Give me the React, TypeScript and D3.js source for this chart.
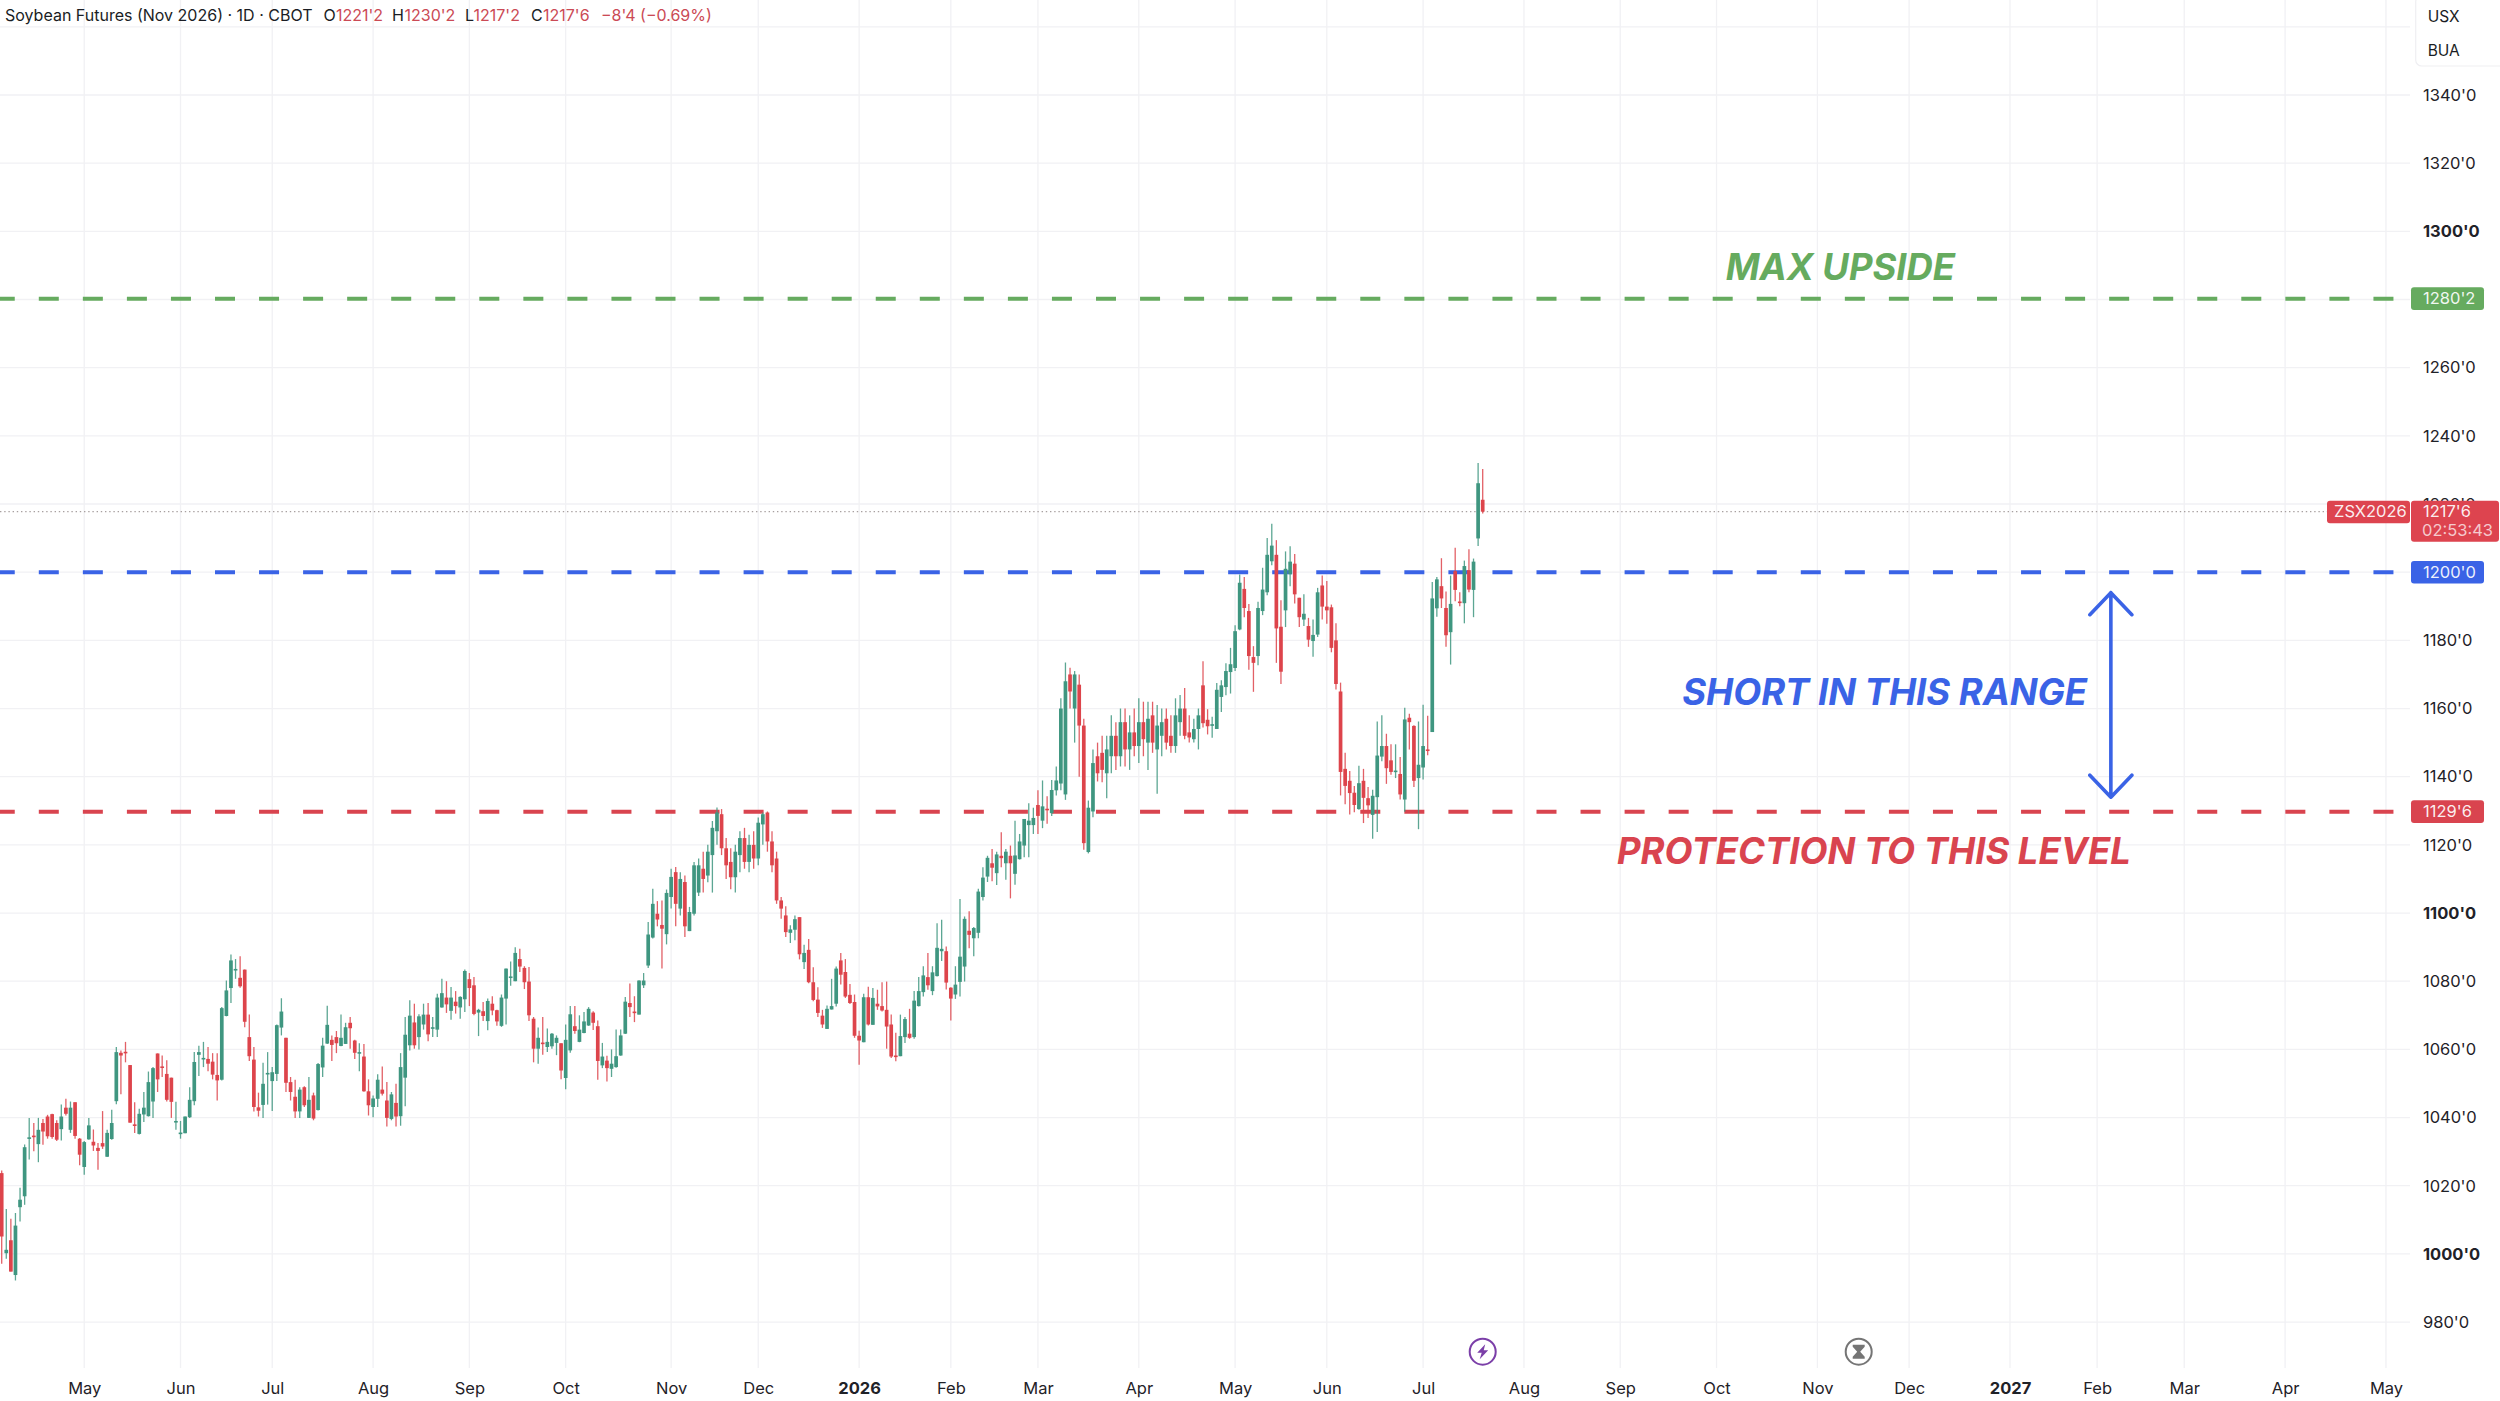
import { useEffect, useRef } from 'react';
import * as d3 from 'd3';

// [open, high, low, close]
const barsApr2025: number[][] = [
  [1023.7,1024.5,997.1,1005.1],[1000.2,1013.2,998.6,1001.2],[1004,1010.3,994.8,994.8],[993.8,1012,992.2,1008.3],[1013.7,1019.4,1009.5,1015.9],
  [1016.9,1032.1,1014.4,1031.3],[1033.9,1039.9,1027.7,1034.2],[1034.7,1038.4,1030.1,1034.4],[1032.2,1039.9,1026.9,1036.4],[1038.4,1039.6,1032,1035.9],
  [1040.3,1040.8,1033.8,1034.5],[1041,1041.1,1033.8,1034.3],[1038.4,1039.2,1033.1,1033.5],[1036.6,1043.8,1033.3,1040.3],[1042.9,1045.5,1040.6,1041.1],
  [1036.4,1044.7,1035.5,1042.9],[1044.5,1044.5,1033.8,1034.6],[1033.8,1034,1026,1029.1],
];
const barsMay2025: number[][] = [
  [1025.5,1033.1,1023.2,1032.8],[1033.6,1039.9,1033.5,1037.7],[1032.9,1036.5,1030.2,1031.8],[1031.1,1032.5,1024.7,1030.2],[1032.5,1041.9,1030.8,1031.5],
  [1028.5,1036.4,1028.4,1035.5],[1033.7,1042.3,1033.5,1038.4],[1044.8,1060.7,1043.9,1059.2],[1059,1059.7,1046.8,1058.2],[1059.3,1062.2,1056.2,1059.1],
  [1055.4,1055.4,1038.5,1038.5],[1038,1044.5,1035.5,1037.7],[1035.2,1042.6,1035,1041.1],[1040.9,1047.5,1038.7,1042.9],[1040.4,1053.5,1040.3,1050.4],
  [1044.7,1054.8,1039.9,1054.5],[1058.8,1058.8,1047.5,1051.2],[1055,1058.2,1051.9,1054.8],[1052.8,1056.8,1044.7,1045.2],[1051.7,1051.7,1039.9,1044.6],
  [1038.7,1044.6,1036.4,1039],
];
const barsJun2025: number[][] = [
  [1035.3,1039,1033.8,1035.6],[1035.4,1040.3,1035.4,1040.3],[1040.1,1048.9,1039.9,1045.2],[1044.8,1059.2,1043.6,1056.3],[1058.4,1061.1,1052.2,1059.2],
  [1057.3,1062.2,1054.8,1057.5],[1057.2,1060.7,1053.6,1055.8],[1056.4,1058.9,1051.2,1052.6],[1052.5,1058.9,1045,1050.9],[1051.1,1072.4,1050.9,1072.1],
  [1069.8,1080.2,1069.7,1077.3],[1078,1087.8,1073.6,1086.1],[1083.4,1086.5,1080.7,1083.6],[1081,1087.3,1078.1,1078.5],[1083.4,1083.4,1066.5,1068.1],
  [1063.6,1070.2,1056.6,1058],[1057,1060.7,1041.8,1043.1],[1043,1047.3,1040.3,1042],[1043.7,1056.1,1039.9,1049.9],[1052.9,1059.2,1043.8,1053.1],
];
const barsJul2025: number[][] = [
  [1050.7,1054.8,1041.9,1053.3],[1052.8,1067.3,1050.7,1067.1],[1066.4,1075,1064.1,1071.1],[1063.4,1063.4,1047.5,1050.2],[1050.4,1051.9,1045,1047.5],
  [1046.1,1051.1,1039.9,1041.8],[1041.8,1048.9,1039.9,1048.2],[1048.9,1049.2,1043.1,1043.6],[1039.9,1051.9,1039.9,1045.2],[1046.5,1047.3,1039.2,1039.7],
  [1042.2,1056,1042.1,1055.7],[1054.7,1063.4,1051.9,1061.1],[1061.7,1072.8,1061.6,1067.2],[1062.8,1064.1,1056.6,1061.3],[1063.6,1065.4,1058.9,1061.8],
  [1061,1070.2,1060.9,1063.4],[1061.6,1067.8,1061.6,1066.5],[1067.8,1069.5,1060.2,1066.2],[1062.6,1062.8,1057.2,1059],[1059,1061.8,1053.6,1059.2],
  [1057.9,1061.6,1047.6,1047.7],[1047.7,1051.2,1040.6,1043.6],
];
const barsAug2025: number[][] = [
  [1043.1,1046.5,1040.1,1045.6],[1045.5,1052.7,1043.1,1051.1],[1048.2,1055,1046.5,1047],[1045,1050.4,1037.4,1039.9],[1039.6,1047.5,1039.2,1046.8],
  [1044.3,1049.9,1037.4,1040.3],[1040.4,1058.9,1037.6,1054.8],[1051.7,1069.5,1043.3,1064.3],[1061.2,1074.4,1059.7,1069.9],[1067.9,1073.4,1060.2,1061.2],
  [1063.6,1070.3,1060,1069.7],[1067.3,1073.4,1065.8,1070.2],[1070.2,1073.6,1062.4,1064.4],[1066.3,1069.5,1063.6,1066.5],[1065.8,1076.3,1063.6,1075.2],
  [1072.3,1080.7,1072.2,1076.5],[1075.2,1080,1070.7,1073.2],[1071.3,1078.3,1068.7,1075.2],[1074,1077.1,1070.5,1072.7],[1072.3,1075.6,1069,1075.4],
  [1074.7,1083.4,1071,1083],
];
const barsSep2025: number[][] = [
  [1080.6,1082.4,1072.7,1078],[1078.8,1081.2,1070,1070.4],[1070.8,1071.9,1063.9,1071.6],[1071.2,1073.9,1068.3,1069.8],[1068.3,1074.9,1065.6,1074.2],
  [1073.4,1075.6,1070,1071.4],[1071.5,1071.6,1066.9,1068.2],[1066.9,1076.1,1066.6,1075.2],[1074.9,1083.7,1067.3,1083.7],[1081.2,1085.8,1078.7,1081.4],
  [1080,1090,1080,1088.3],[1086.5,1089.5,1082.7,1084.3],[1083.9,1084.4,1077.7,1079.7],[1079.9,1084.2,1068.3,1070],[1069,1069.5,1056.2,1060.2],
  [1060.2,1066.4,1055.8,1063.4],[1062,1069.5,1058.4,1061.8],[1060.7,1066.1,1059.2,1062.2],[1060.9,1064.8,1060.2,1064.6],[1061.9,1064.1,1058.3,1063.4],
  [1061.8,1061.8,1051.2,1053.8],
];
const barsOct2025: number[][] = [
  [1051.6,1067.3,1048.3,1062.8],[1059.7,1072.7,1059,1070.3],[1066.8,1072.7,1064.6,1065.4],[1062.2,1070,1062.1,1065.8],[1064.8,1071,1064.7,1068.2],
  [1067,1072.4,1066.9,1071.9],[1070.8,1071.2,1065.7,1067.8],[1066.8,1068.5,1051.1,1056.6],[1055.3,1061.9,1054.5,1057.9],[1056.7,1058.1,1050.6,1054.5],
  [1054.3,1060,1051.9,1055.8],[1054.8,1065.8,1054.6,1058],[1058.2,1065.8,1058.1,1064.1],[1064.6,1075.4,1064.5,1074],[1073.6,1079.3,1069.5,1072.4],
  [1071.1,1075.6,1068,1070.9],[1070.2,1080.3,1070.2,1080.2],[1078.8,1082.4,1078,1080.2],[1084.6,1097.4,1083.9,1093.7],[1092.8,1107.1,1092.5,1102.7],
  [1099.8,1103.5,1096.1,1098.1],[1096.5,1103.7,1083.7,1095.4],[1093.8,1106.9,1090.8,1105.9],
];
const barsNov2025: number[][] = [
  [1104.7,1113,1101.3,1110.6],[1112,1113.5,1096.1,1102.7],[1101.3,1112,1099.3,1110],[1109.1,1111,1093,1096.1],[1094.7,1101.8,1094.7,1100.3],
  [1099.8,1115,1099.3,1114],[1106,1116,1105,1114],[1113,1118,1106,1110],[1111,1120,1109,1118],[1117,1127,1106,1125],
  [1124,1131,1120,1129.5],[1129,1130.5,1117,1119],[1119,1122,1110,1114],[1115,1119,1107,1110.5],[1110.5,1120,1106,1118],
  [1117,1124,1112,1122],[1122,1125,1113,1115],[1115,1123,1112,1120],[1120,1124,1113,1116],
];
const barsDec2025: number[][] = [
  [1116,1128,1114,1126.5],[1126,1129.5,1120,1129],[1129.5,1129.8,1118,1121],[1121,1124,1112,1114],[1116,1118,1102.7,1103.7],
  [1103.7,1104.7,1098.3,1101.3],[1099.3,1102,1093,1094.4],[1094.2,1096.4,1091.2,1095.2],[1095.1,1099.3,1092,1098.2],[1098.8,1098.8,1086.4,1087.9],
  [1085.6,1090.7,1083.6,1088.3],[1089.2,1092.4,1079.4,1079.7],[1079.7,1084.1,1074.1,1074.5],[1074.6,1078.2,1069.5,1070.7],[1069.9,1071.6,1066.3,1067.3],
  [1066,1072.9,1066,1071.9],[1071.7,1080.7,1071.7,1072.7],[1073.4,1084.3,1072.6,1083.7],[1086.1,1088.3,1079,1081.9],[1082.7,1086.5,1075.1,1075.5],
  [1076,1079.2,1073.3,1073.6],[1073.9,1076.1,1063.4,1064],
];
const barsJan2026: number[][] = [
  [1064,1065.5,1055.5,1062.6],[1062.1,1076.3,1062.1,1075.3],[1075.3,1078.4,1067,1067.3],[1067.2,1078,1067.2,1075.1],[1073.4,1077.5,1071.6,1072.6],
  [1072.7,1079.7,1071.1,1071.4],[1071.6,1079.9,1060.2,1066.7],[1067.3,1070.2,1057.5,1057.9],[1058.2,1064.9,1056.5,1058],[1058,1070.2,1058,1063.9],
  [1063.6,1069.5,1061.9,1068.9],[1064.6,1071.9,1063.1,1063.4],[1063.6,1077.1,1063.1,1074.3],[1072.7,1081.2,1072.6,1077.1],[1076.8,1084.4,1075.5,1081.7],
  [1081.2,1088.3,1077.5,1078.8],[1077.1,1084.4,1075.9,1082.6],[1081.5,1097,1081.4,1089.8],[1088.8,1098,1085.9,1089.5],[1088.8,1090.2,1077.6,1079.6],
];
const barsFeb2026: number[][] = [
  [1078.1,1078.2,1068.5,1074.9],[1076.1,1084.4,1074.8,1079],[1079.8,1104.1,1075.5,1087.2],[1084.3,1099,1079.9,1098.3],[1094.8,1100.5,1089.7,1093.6],
  [1092.6,1095.9,1087.3,1095.6],[1094.2,1107.1,1092.6,1106.3],[1104.7,1113.4,1103.7,1110.4],[1110.7,1116.8,1109.1,1116.2],[1114.6,1118.8,1109.3,1113.3],
  [1111.7,1118,1108.2,1117.2],[1116.8,1123.7,1113.4,1116.1],[1114.6,1118.8,1109.8,1118],[1116.8,1119.8,1104.3,1114.6],[1111.5,1127.1,1108.3,1116.9],
  [1115.8,1123.2,1115.7,1121],[1119.8,1127.6,1116.4,1127.6],[1125.8,1132.2,1116.4,1127.1],[1125.8,1130.9,1123.2,1127.9],
];
const barsMar2026: number[][] = [
  [1131.7,1136,1123.2,1128.5],[1127.1,1138.9,1124.9,1131.3],[1130.6,1134.3,1126.2,1130.4],[1129.3,1139,1128.5,1136.1],[1136,1143,1134.5,1138.9],
  [1138,1163,1136,1160],[1134.8,1173.5,1133.2,1168],[1170,1172,1160,1165],[1160,1171,1150,1170],[1167,1170,1140,1155],
  [1155,1157,1118.6,1120.5],[1117.9,1133,1117.5,1130.9],[1129.8,1148,1128.1,1144],[1146,1150,1138.6,1141],[1147,1152,1138.4,1142],
  [1141,1152,1133.7,1148],[1146,1158,1141,1152],[1152,1156,1142,1146],[1146,1160,1143,1156],[1156,1160,1143,1148],
  [1148,1158,1142,1153],[1153,1160,1146,1149],
];
const barsApr2026: number[][] = [
  [1149,1163,1144,1156],[1156,1162,1146,1151],[1150,1162,1142,1157],[1158,1162,1147,1150],[1148,1161,1135,1155],
  [1152,1160,1146,1156],[1157,1160,1148,1150],[1152,1158,1147,1149],[1149,1163,1147,1158],[1156,1164,1152,1160],
  [1160,1166,1151,1152],[1153,1158,1150,1151.5],[1151,1157,1150,1154],[1154,1160,1148,1158],[1166.8,1173.9,1154.4,1155.7],
  [1156.7,1159.8,1152.4,1154.8],[1155.2,1157.6,1151.4,1155.4],[1154,1167.5,1154,1165.5],[1163.4,1168.3,1159,1166.8],[1166.3,1173.3,1163.9,1171],
  [1170.7,1177.8,1164.4,1173],
];
const barsMay2026: number[][] = [
  [1171.9,1184.4,1171,1182.7],[1183.2,1199.3,1183,1196.9],[1195.1,1198.6,1186.8,1189.5],[1188.6,1190.7,1171.4,1175.4],[1175.1,1178.3,1164.9,1173.4],
  [1175.4,1191.3,1172.7,1189.5],[1188.6,1201.3,1187.4,1194.9],[1194.1,1210,1193.2,1205.1],[1203.2,1214.2,1202,1207.8],[1205.1,1209.4,1173.4,1183.5],
  [1184,1191.8,1167.2,1170.8],[1188.8,1206.1,1183.9,1201],[1199.4,1207.6,1195.9,1203.1],[1202.5,1205.3,1190.8,1193.5],[1192.5,1192.5,1183.9,1186.8],
  [1186.1,1193.5,1184.2,1187.8],[1184.2,1186.6,1178.1,1180.2],[1179.8,1186.1,1175.2,1181.6],[1181.7,1195.4,1181,1194.1],[1196.1,1199,1186.1,1189.9],
];
const barsJun2026: number[][] = [
  [1189.9,1197.4,1184.9,1188.8],[1189.7,1190.5,1176.5,1177.8],[1180,1185,1165.6,1167.2],[1165,1167.6,1134.5,1141.4],[1142.3,1147,1131.9,1137.3],
  [1138.8,1141.7,1128.9,1135.2],[1135.3,1137.3,1129.6,1131.7],[1130.5,1143.2,1130.3,1138.1],[1138.8,1142.3,1126.4,1133.8],[1133.7,1137,1127.9,1131.6],
  [1128.8,1136.2,1121.8,1134.4],[1134,1156.2,1123.8,1146.2],[1145.9,1158,1144.5,1149],[1149,1152.6,1137.9,1142.5],[1144.8,1149.5,1140.6,1141.4],
  [1141.6,1149.5,1139.6,1141.8],[1140.8,1145.8,1133.3,1134.8],[1133.3,1160.2,1129.7,1156.8],[1157.3,1158.5,1148,1156],[1154.9,1155.1,1137,1138.8],
  [1139.6,1156.2,1124.6,1143.5],
];
const barsJul2026: number[][] = [
  [1142.7,1161.1,1139.2,1149],[1148,1157.9,1146.3,1147.8],[1153.1,1197.1,1153.1,1192.3],[1189.4,1198.6,1186.9,1197.9],[1195.9,1204.1,1189.5,1192.3],
  [1189.5,1194.3,1178.1,1181.5],[1182.4,1199,1172.9,1190.7],[1200.3,1207.2,1191.5,1194.8],[1191.4,1194.1,1190,1191.2],[1190.9,1203.4,1185,1201.8],
  [1200.6,1206.7,1194.1,1194.9],[1194.8,1204,1186.8,1203.1],[1209.9,1232,1207.7,1226.1],[1221.25,1230.25,1217.25,1217.75],
];
const bars = [
  ...barsApr2025, ...barsMay2025, ...barsJun2025, ...barsJul2025, ...barsAug2025, ...barsSep2025, ...barsOct2025, ...barsNov2025,
  ...barsDec2025, ...barsJan2026, ...barsFeb2026, ...barsMar2026, ...barsApr2026, ...barsMay2026, ...barsJun2026, ...barsJul2026,
];

const monthLabels = ['May', 'Jun', 'Jul', 'Aug', 'Sep', 'Oct', 'Nov', 'Dec', '2026', 'Feb', 'Mar', 'Apr', 'May', 'Jun', 'Jul', 'Aug', 'Sep', 'Oct', 'Nov', 'Dec', '2027', 'Feb', 'Mar', 'Apr', 'May'];
const monthBars = [18, 39, 59, 81, 102, 123, 146, 165, 187, 207, 226, 248, 269, 289, 310, 332, 353, 374, 396, 416, 438, 457, 476, 498, 520];
const priceTicks = d3.range(980, 1361, 20);
const boldPrices = [1000, 1100, 1200, 1300];

const levels = [
  { price: 1280.25, label: "1280'2", color: '#66AB5F' },
  { price: 1200, label: "1200'0", color: '#3A63E6' },
  { price: 1129.75, label: "1129'6", color: '#D9444F' },
];
const lastPrice = 1217.75;
const notes = [
  { text: 'MAX UPSIDE', bar: 376, price: 1285.7, color: '#66AB5F' },
  { text: 'SHORT IN THIS RANGE', bar: 366.5, price: 1161, color: '#3A63E6' },
  { text: 'PROTECTION TO THIS LEVEL', bar: 352.3, price: 1114.3, color: '#D9444F' },
];
const arrowSpan = { bar: 460, top: 1194, bottom: 1134 };

const legendParts = [
  { t: 'Soybean Futures (Nov 2026) · 1D · CBOT', x: 5, red: false },
  { t: 'O', x: 323.5, red: false }, { t: "1221'2", x: 336, red: true },
  { t: 'H', x: 392, red: false }, { t: "1230'2", x: 404.5, red: true },
  { t: 'L', x: 465, red: false }, { t: "1217'2", x: 473.5, red: true },
  { t: 'C', x: 531, red: false }, { t: "1217'6", x: 543, red: true },
  { t: '−8\'4 (−0.69%)', x: 601, red: true },
];

const FONT = 'Inter, "Noto Sans", sans-serif';
const UP = '#3F9680';
const DOWN = '#DD444B';
const AXIS_X = 2410;
const GRID = '#F1F1F4';

export default function App() {
  const svgRef = useRef<SVGSVGElement>(null);

  useEffect(() => {
    const svg = d3.select(svgRef.current!);
    svg.selectAll('*').remove();

    const x = d3.scaleLinear().domain([0, bars.length - 1]).range([1.7, 1482.7]);
    const y = d3.scaleLinear().domain([1140, 1340]).range([776.7, 95]);

    svg.append('rect').attr('width', 2500).attr('height', 1401).attr('fill', '#fff');

    // grid
    svg.append('g').selectAll('line').data(priceTicks).join('line')
      .attr('x1', 0).attr('x2', AXIS_X).attr('y1', (d) => y(d)).attr('y2', (d) => y(d))
      .attr('stroke', GRID).attr('stroke-width', 1.3);
    svg.append('g').selectAll('line').data(monthBars).join('line')
      .attr('x1', (d) => x(d)).attr('x2', (d) => x(d)).attr('y1', 0).attr('y2', 1368)
      .attr('stroke', GRID).attr('stroke-width', 1.3);

    // last price line
    svg.append('line').attr('x1', 0).attr('x2', 2327).attr('y1', y(lastPrice)).attr('y2', y(lastPrice))
      .attr('stroke', '#A8A0A0').attr('stroke-width', 1.3).attr('stroke-dasharray', '1.4 2.8');

    // levels
    svg.append('g').selectAll('line').data(levels).join('line')
      .attr('x1', 0).attr('x2', AXIS_X).attr('y1', (d) => y(d.price)).attr('y2', (d) => y(d.price))
      .attr('stroke', (d) => d.color).attr('stroke-width', 4)
      .attr('stroke-dasharray', '20 24.05').attr('stroke-dashoffset', 5.25);

    // candles
    const candle = svg.append('g').selectAll('g').data(bars).join('g')
      .attr('fill', (d) => (d[3] < d[0] ? DOWN : UP))
      .attr('stroke', (d) => (d[3] < d[0] ? DOWN : UP));
    candle.append('line')
      .attr('x1', (_, i) => x(i)).attr('x2', (_, i) => x(i))
      .attr('y1', (d) => y(d[1])).attr('y2', (d) => y(d[2]))
      .attr('stroke-width', 1.3).attr('stroke-opacity', 0.85);
    candle.append('rect')
      .attr('x', (_, i) => x(i) - 1.85).attr('width', 3.7)
      .attr('y', (d) => y(Math.max(d[0], d[3])))
      .attr('height', (d) => Math.max(1.6, Math.abs(y(d[0]) - y(d[3]))))
      .attr('stroke', 'none');

    // annotations
    svg.append('g').selectAll('text').data(notes).join('text')
      .attr('x', (d) => x(d.bar)).attr('y', (d) => y(d.price))
      .attr('fill', (d) => d.color).attr('font-family', FONT).attr('font-size', 36.4)
      .attr('font-weight', 700).attr('font-style', 'italic').text((d) => d.text);

    const ax = x(arrowSpan.bar);
    const top = y(arrowSpan.top);
    const bot = y(arrowSpan.bottom);
    const arrow = d3.path();
    arrow.moveTo(ax, top); arrow.lineTo(ax, bot);
    arrow.moveTo(ax - 21, top + 22); arrow.lineTo(ax, top); arrow.lineTo(ax + 21, top + 22);
    arrow.moveTo(ax - 21, bot - 22); arrow.lineTo(ax, bot); arrow.lineTo(ax + 21, bot - 22);
    svg.append('path').attr('d', arrow.toString()).attr('fill', 'none').attr('stroke', '#3A63E6')
      .attr('stroke-width', 3.6).attr('stroke-linecap', 'round').attr('stroke-linejoin', 'round');

    // axes
    const yAxis = d3.axisRight(y).tickValues(priceTicks.filter((d) => d < 1360)).tickSize(0).tickPadding(0)
      .tickFormat((d) => `${d}'0`);
    const yG = svg.append('g').attr('transform', 'translate(2423,0)').call(yAxis);
    yG.select('.domain').remove();
    yG.selectAll<SVGTextElement, number>('text')
      .attr('font-family', FONT).attr('font-size', 16.5).attr('fill', '#1F2228')
      .attr('font-weight', (d) => (boldPrices.includes(d) ? 700 : 400));

    const xAxis = d3.axisBottom(x).tickValues(monthBars).tickSize(0).tickPadding(0)
      .tickFormat((_, i) => monthLabels[i]);
    const xG = svg.append('g').attr('transform', 'translate(0,1382.5)').call(xAxis);
    xG.select('.domain').remove();
    xG.selectAll<SVGTextElement, number>('text')
      .attr('font-family', FONT).attr('font-size', 16.5).attr('fill', '#1F2228')
      .attr('font-weight', (_, i) => (monthLabels[i].length === 4 ? 700 : 400));

    // legend
    svg.append('g').selectAll('text').data(legendParts).join('text')
      .attr('x', (d) => d.x).attr('y', 20.5).attr('font-family', FONT).attr('font-size', 16)
      .attr('fill', (d) => (d.red ? '#CB4A55' : '#1A1D24')).text((d) => d.t);

    // USX / BUA box
    svg.append('rect').attr('x', 2415.7).attr('y', -4).attr('width', 90).attr('height', 70).attr('rx', 6)
      .attr('fill', '#fff').attr('stroke', '#EFEFF2').attr('stroke-width', 1.2);
    svg.append('g').selectAll('text').data(['USX', 'BUA']).join('text')
      .attr('x', 2427.7).attr('y', (_, i) => 22 + i * 34).attr('font-family', FONT).attr('font-size', 15.5)
      .attr('fill', '#1A1D24').text((d) => d);

    // level tags
    const tag = svg.append('g').selectAll('g').data(levels).join('g');
    tag.append('rect').attr('x', 2411).attr('y', (d) => y(d.price) - 11.3).attr('width', 73).attr('height', 22.6)
      .attr('rx', 3).attr('fill', (d) => d.color);
    tag.append('text').attr('x', 2423).attr('y', (d) => y(d.price)).attr('dy', '.35em')
      .attr('font-family', FONT).attr('font-size', 16.5).attr('fill', '#fff').attr('fill-opacity', 0.92).text((d) => d.label);

    // last price tags
    const ly = y(lastPrice);
    svg.append('rect').attr('x', 2327).attr('y', ly - 11).attr('width', 83).attr('height', 22.5).attr('rx', 3).attr('fill', '#DD444F');
    svg.append('text').attr('x', 2334).attr('y', ly).attr('dy', '.35em').attr('font-family', FONT).attr('font-size', 16.5)
      .attr('fill', '#fff').attr('fill-opacity', 0.92).text('ZSX2026');
    svg.append('rect').attr('x', 2411).attr('y', ly - 11).attr('width', 88).attr('height', 41).attr('rx', 3).attr('fill', '#DD444F');
    svg.append('text').attr('x', 2423).attr('y', ly).attr('dy', '.35em').attr('font-family', FONT).attr('font-size', 16.5)
      .attr('fill', '#fff').attr('fill-opacity', 0.92).text("1217'6");
    svg.append('text').attr('x', 2422).attr('y', ly + 18.5).attr('dy', '.35em').attr('font-family', FONT).attr('font-size', 16.5)
      .attr('fill', '#fff').attr('fill-opacity', 0.72).text('02:53:43');

    // session icons
    const bolt = svg.append('g').attr('transform', 'translate(1482.7,1351.7)');
    bolt.append('circle').attr('r', 13).attr('fill', '#fff').attr('stroke', '#7B3FA8').attr('stroke-width', 2);
    bolt.append('path').attr('d', 'M2.5,-7.5 L-5.5,1 L-1,1 L-3,7.5 L5.5,-1.5 L1,-1.5 Z').attr('fill', '#7B3FA8');
    const glass = svg.append('g').attr('transform', 'translate(1858.7,1351.7)');
    glass.append('circle').attr('r', 13).attr('fill', '#fff').attr('stroke', '#757575').attr('stroke-width', 2);
    glass.append('path').attr('d', 'M-6,-7 L6,-7 L6,-5 L1.5,0 L6,5 L6,7 L-6,7 L-6,5 L-1.5,0 L-6,-5 Z').attr('fill', '#757575');
  }, []);

  return (
    <svg ref={svgRef} width={2500} height={1401} viewBox="0 0 2500 1401"
      style={{ position: 'fixed', left: 0, top: 0, display: 'block' }} />
  );
}
